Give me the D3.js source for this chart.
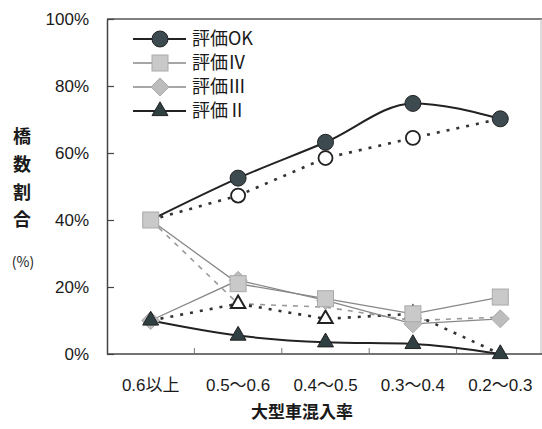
<!DOCTYPE html>
<html><head><meta charset="utf-8">
<script src="https://cdn.jsdelivr.net/npm/d3@7"></script>
<style>
body{margin:0;background:#fff;}
text{font-family:"Liberation Sans","Noto Sans CJK JP",sans-serif;fill:#1a1a1a;}
.cjk{font-family:"Noto Sans CJK JP",sans-serif;}
</style></head><body>
<svg id="c" width="542" height="429"></svg>
<script>
const categories = ["0.6以上","0.5～0.6","0.4～0.5","0.3～0.4","0.2～0.3"];
const yTicks = [0,20,40,60,80,100];
const legendNames = ["評価OK","評価Ⅳ","評価Ⅲ","評価Ⅱ"];
const evalOK     = [40, 52.5, 63.2, 74.8, 70.2];
const evalIV     = [40, 21, 16.5, 12, 17];
const evalIII    = [10, 22, 16, 9, 10.5];
const evalII     = [10, 5.5, 3.5, 3, 0];
const evalOKdot  = [40, 47.3, 58.5, 64.5, 70.2];
const evalIVdash = [40, 15, 14, 10, 11];
const evalIIdot  = [10, 15, 10.5, 12, 0];
const xTitle = "大型車混入率";
const yTitle = ["橋","数","割","合"];

const svg = d3.select("#c");
const x = d3.scaleBand().domain(categories).range([107, 544]);
const y = d3.scaleLinear().domain([0,100]).range([354, 19]);
const cx = d => x(d) + x.bandwidth()/2;

// frame
svg.append("line").attr("x1",107).attr("x2",542).attr("y1",y(100)).attr("y2",y(100)).attr("stroke","#555").attr("stroke-width",1.3);
svg.append("line").attr("x1",541).attr("x2",541).attr("y1",y(100)).attr("y2",y(0)).attr("stroke","#bbb").attr("stroke-width",1);

// y axis
const ya = svg.append("g").attr("transform","translate(107,0)")
  .call(d3.axisLeft(y).tickValues(yTicks).tickFormat(d=>d+"%").tickSizeInner(-7).tickSizeOuter(0).tickPadding(18));
ya.select(".domain").attr("stroke","#444").attr("stroke-width",1.5);
ya.selectAll(".tick line").attr("stroke","#444").attr("stroke-width",1.2);
ya.selectAll("text").attr("font-size",17).attr("fill","#1a1a1a").attr("font-family","Liberation Sans, sans-serif");

// x axis
const xa = svg.append("g").attr("transform",`translate(0,${y(0)})`)
  .call(d3.axisBottom(x).tickSize(0).tickPadding(25));
xa.select(".domain").remove();
xa.selectAll("text").attr("font-size",17).attr("fill","#1a1a1a").attr("font-family","Liberation Sans, Noto Sans CJK JP, sans-serif");
svg.append("line").attr("x1",107).attr("x2",542).attr("y1",y(0)).attr("y2",y(0)).attr("stroke","#444").attr("stroke-width",1.5);
svg.append("g").selectAll("line").data(categories.slice(1)).join("line")
  .attr("x1",d=>x(d)).attr("x2",d=>x(d)).attr("y1",y(0)).attr("y2",y(0)-6)
  .attr("stroke","#777").attr("stroke-width",1);

// titles
svg.append("text").attr("class","cjk").attr("x",302).attr("y",412).attr("dy","0.35em")
  .attr("text-anchor","middle").attr("font-size",17).attr("font-weight","bold").text(xTitle);
svg.append("g").selectAll("text").data(yTitle).join("text").attr("class","cjk")
  .attr("x",22).attr("y",(d,i)=>137+i*27.7).attr("dy","0.35em").attr("text-anchor","middle")
  .attr("font-size",18).attr("font-weight","bold").text(d=>d);
svg.append("text").attr("class","cjk").attr("x",23).attr("y",262).attr("dy","0.35em").attr("text-anchor","middle")
  .attr("font-size",14).text("(%)");

const idx = categories.map((c,i)=>i);
function line(vals, curve){
  return d3.line().x(i=>cx(categories[i])).y(i=>y(vals[i])).curve(curve||d3.curveLinear)(idx);
}
const g = svg.append("g");

// dotted / dashed series
g.append("path").attr("d",line(evalIVdash)).attr("fill","none").attr("stroke","#999").attr("stroke-width",1.6).attr("stroke-dasharray","5,6");
g.append("path").attr("d",line(evalOKdot)).attr("fill","none").attr("stroke","#333").attr("stroke-width",2.6).attr("stroke-dasharray","3,7");
g.append("path").attr("d",line(evalIIdot)).attr("fill","none").attr("stroke","#333").attr("stroke-width",2.6).attr("stroke-dasharray","3,7");

// solid series lines
g.append("path").attr("d",line(evalIV)).attr("fill","none").attr("stroke","#888").attr("stroke-width",1.3);
g.append("path").attr("d",line(evalIII)).attr("fill","none").attr("stroke","#888").attr("stroke-width",1.3);
g.append("path").attr("d",line(evalOK,d3.curveMonotoneX)).attr("fill","none").attr("stroke","#222").attr("stroke-width",2);
g.append("path").attr("d",line(evalII,d3.curveMonotoneX)).attr("fill","none").attr("stroke","#222").attr("stroke-width",2);

// markers
const sym = (type,size)=>d3.symbol().type(type).size(size)();
function markers(vals, draw, skip){
  idx.filter(i=>!(skip||[]).includes(i)).forEach(i=>draw(g, cx(categories[i]), y(vals[i])));
}
const drawOpenCircle=(p,X,Y)=>p.append("circle").attr("cx",X).attr("cy",Y).attr("r",7).attr("fill","#fff").attr("stroke","#222").attr("stroke-width",1.8);
const drawOpenTri=(p,X,Y)=>p.append("path").attr("d",sym(d3.symbolTriangle,90)).attr("transform",`translate(${X},${Y})`).attr("fill","#fff").attr("stroke","#222").attr("stroke-width",2);
const drawSquare=(p,X,Y)=>p.append("rect").attr("x",X-8).attr("y",Y-8).attr("width",16).attr("height",16).attr("fill","#c9c9c9").attr("stroke","#aaa").attr("stroke-width",1);
const drawDiamond=(p,X,Y)=>p.append("path").attr("d","M0,-9L9,0L0,9L-9,0Z").attr("transform",`translate(${X},${Y})`).attr("fill","#bdbdbd").attr("stroke","#aaa").attr("stroke-width",1);
const drawCircle=(p,X,Y)=>p.append("circle").attr("cx",X).attr("cy",Y).attr("r",8).attr("fill","#3d4b50").attr("stroke","#222").attr("stroke-width",1);
const drawTri=(p,X,Y)=>p.append("path").attr("d",sym(d3.symbolTriangle,110)).attr("transform",`translate(${X},${Y})`).attr("fill","#2f3f42").attr("stroke","#222").attr("stroke-width",1);

markers(evalOKdot, drawOpenCircle, [0,4]);
markers(evalIIdot, drawOpenTri, [0,4]);
markers(evalIII, drawDiamond);
markers(evalIV, drawSquare);
markers(evalOK, drawCircle, [0]);
markers(evalII, drawTri);

// legend
const lg = svg.append("g");
const legendY = [39,63,87,111];
const legendStyle = [
  {stroke:"#222",w:2,draw:drawCircle},
  {stroke:"#888",w:1.3,draw:drawSquare},
  {stroke:"#888",w:1.3,draw:drawDiamond},
  {stroke:"#222",w:2,draw:drawTri}
];
legendNames.forEach((n,i)=>{
  const Y = legendY[i], s = legendStyle[i];
  lg.append("line").attr("x1",133).attr("x2",186).attr("y1",Y).attr("y2",Y).attr("stroke",s.stroke).attr("stroke-width",s.w);
  s.draw(lg,160,Y);
  lg.append("text").attr("class","cjk").attr("x",192).attr("y",Y).attr("dy","0.35em").attr("font-size",18).text(n);
});
</script>
</body></html>
